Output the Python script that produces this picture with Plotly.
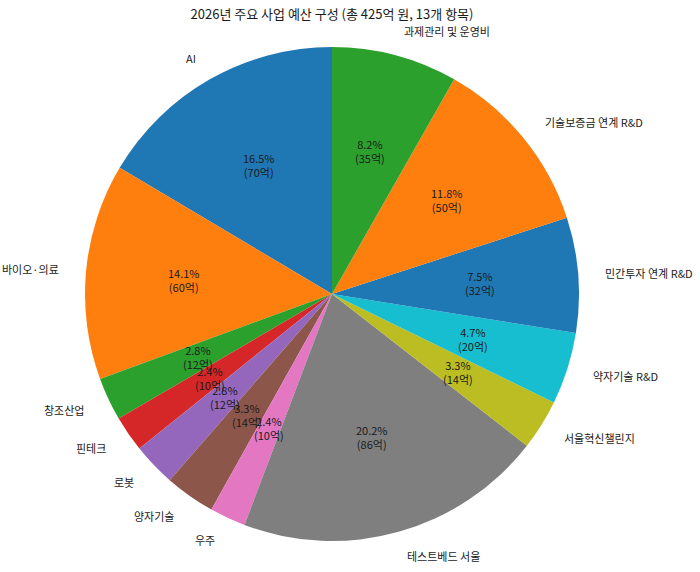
"""
2026 budget composition pie (13 programmes, total 425억 원).
Matplotlib-like layout: labels at 1.1r, percent text at 0.6r.
"""

import math
import plotly.graph_objects as go

# data
labels = ['AI', '바이오·의료', '창조산업', '핀테크', '로봇', '양자기술', '우주',
          '테스트베드 서울', '서울혁신챌린지', '약자기술 R&D', '민간투자 연계 R&D',
          '기술보증금 연계 R&D', '과제관리 및 운영비']
amounts = [70, 60, 12, 10, 12, 14, 10, 86, 14, 20, 32, 50, 35]
colors = ['#1f77b4', '#ff7f0e', '#2ca02c', '#d62728', '#9467bd', '#8c564b', '#e377c2',
          '#7f7f7f', '#bcbd22', '#17becf', '#1f77b4', '#ff7f0e', '#2ca02c']

total = sum(amounts)

# page / pie geometry (pixels)
W, H = 700, 572
CX, CY, R = 332, 294, 247        # centre measured from top
cy_b = H - CY                     # centre measured from bottom

FONT = 'Noto Sans CJK KR, Noto Sans, sans-serif'
TXT = '#1a1a1a'

# plotly's counterclockwise pie puts the first slice clockwise of `rotation`,
# so shift by the first slice's angle to make it start at 12 o'clock
first_angle = amounts[0] / total * 360

fig = go.Figure()
fig.add_trace(go.Pie(
    labels=labels, values=amounts,
    marker=dict(colors=colors, line=dict(width=0)),
    sort=False, direction='counterclockwise', rotation=-first_angle,
    textinfo='none', showlegend=False,
    domain=dict(x=[(CX - R) / W, (CX + R) / W], y=[(cy_b - R) / H, (cy_b + R) / H]),
    hovertemplate='%{label}<br>%{value}억 (%{percent})<extra></extra>'
))

# labels and percentages, placed along each slice's bisector
annotations = []
start = 90.0
for lab, val in zip(labels, amounts):
    span = val / total * 360
    mid = math.radians(start + span / 2)
    start += span
    c, s = math.cos(mid), math.sin(mid)

    annotations.append(dict(
        text=lab, xref='paper', yref='paper',
        x=(CX + 1.1 * R * c) / W, y=(cy_b + 1.1 * R * s) / H,
        xanchor='right' if c < 0 else 'left', yanchor='middle',
        showarrow=False, font=dict(family=FONT, size=11, color=TXT)
    ))
    annotations.append(dict(
        text=f'{val / total * 100:.1f}%<br>({val}억)', xref='paper', yref='paper',
        x=(CX + 0.6 * R * c) / W, y=(cy_b + 0.6 * R * s) / H,
        xanchor='center', yanchor='middle', align='center',
        showarrow=False, font=dict(family=FONT, size=11, color=TXT)
    ))

fig.update_layout(
    width=W, height=H,
    margin=dict(l=0, r=0, t=0, b=0),
    paper_bgcolor='white', plot_bgcolor='white',
    title=dict(text=f'2026년 주요 사업 예산 구성 (총 {total}억 원, {len(labels)}개 항목)',
               x=CX / W, xanchor='center', y=1 - 14 / H, yanchor='middle',
               font=dict(family=FONT, size=13, color=TXT)),
    annotations=annotations
)

# drop the browser's default body margin so the figure sits at the page corner
fig.write_html("out.html", config={'displayModeBar': False},
               post_script="document.body.style.margin = '0';")
